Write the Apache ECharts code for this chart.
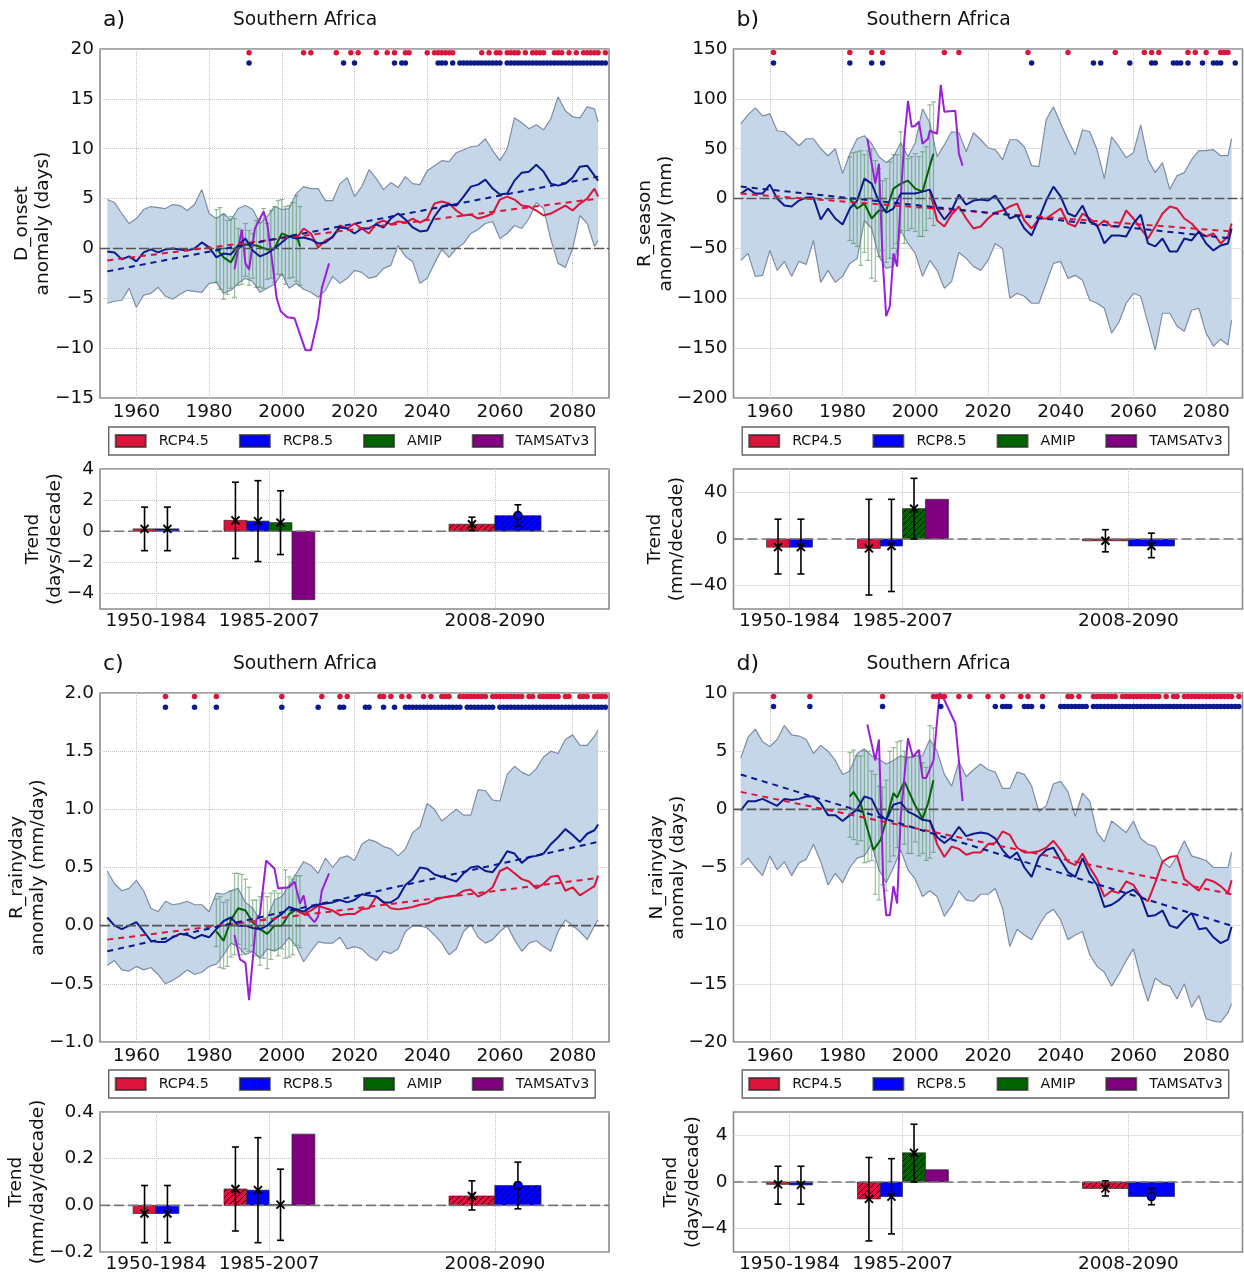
<!DOCTYPE html>
<html>
<head>
<meta charset="utf-8">
<title>Southern Africa</title>
<script src="https://cdn.jsdelivr.net/npm/echarts@6/dist/echarts.min.js"></script>
<style>
  html, body { margin: 0; padding: 0; background: #fff; }
  #main { width: 1244px; height: 1272px; }
</style>
</head>
<body>
<div id="main"></div>
<script>
// every 2 years, last point is 2087
var years = [1952,1954,1956,1958,1960,1962,1964,1966,1968,1970,
  1972,1974,1976,1978,1980,1982,1984,1986,1988,1990,
  1992,1994,1996,1998,2000,2002,2004,2006,2008,2010,
  2012,2014,2016,2018,2020,2022,2024,2026,2028,2030,
  2032,2034,2036,2038,2040,2042,2044,2046,2048,2050,
  2052,2054,2056,2058,2060,2062,2064,2066,2068,2070,
  2072,2074,2076,2078,2080,2082,2084,2086,2087];
var rcp45Years = years.slice(26);
var amipErrYears = [1982,1983,1984,1985,1986,1987,1988,1989,1990,1991,1992,1993,1994,1995,1996,1997,1998,1999,2000,2001,2002,2003,2004,2005];
var trendYears = [1952, 2087];

// a) D_onset
var upperA = [4.9,4.6,3.5,2.5,3.0,3.9,4.2,4.1,4.0,4.4,
  4.3,3.8,4.4,5.9,3.5,3.0,3.5,2.8,4.0,4.3,
  3.9,2.5,3.2,4.2,3.9,4.0,5.5,6.2,6.0,6.0,
  4.8,4.8,6.5,7.1,5.2,6.2,7.9,7.0,5.9,6.6,
  6.1,7.2,6.5,6.4,7.8,8.3,8.8,8.7,9.6,9.9,
  10.2,10.3,11.0,9.8,8.8,10.0,13.1,12.6,12.0,12.4,
  11.9,13.0,15.2,13.8,13.2,13.1,14.2,14.0,12.7];
var lowerA = [-5.5,-5.3,-5.2,-4.0,-5.9,-4.7,-4.5,-3.9,-4.8,-5.1,
  -4.6,-4.2,-4.3,-4.4,-3.5,-3.4,-4.5,-4.2,-3.5,-3.0,
  -3.3,-4.4,-4.0,-3.6,-2.5,-4.0,-3.5,-4.1,-4.4,-4.9,
  -4.2,-2.8,-3.5,-3.0,-2.2,-2.4,-3.0,-2.8,-2.0,-1.7,
  0.3,-0.8,-1.3,-3.5,-3.0,-1.5,-0.1,-0.9,0,0.5,
  1.5,1.9,2.5,2.7,1.0,1.5,2.3,2.0,3.0,4.6,
  4.0,0.9,-1.5,-1.9,0,3.3,2.5,0.2,0.8];
var rcp85A = [-0.3,-0.4,-1.1,-0.8,-1.3,-0.4,-0.1,-0.4,-0.1,0,
  -0.1,-0.2,0,0.6,0.1,-0.9,-0.5,-0.6,0.3,1.0,
  -0.2,-0.8,-0.5,0,0.6,1.2,1.0,1.1,0.9,0.5,
  0.6,1.2,2.1,2.0,1.5,2.0,2.0,2.4,2.1,3.0,
  3.5,2.9,2.1,1.7,1.8,3.2,4.2,4.4,4.3,5.2,
  6.2,6.4,6.9,6.0,5.4,5.5,6.8,7.6,7.7,8.4,
  7.7,6.5,6.3,6.5,7.1,8.2,8.3,7.3,6.8];
var rcp45A = [1.0,2.0,1.5,0.1,
  0.8,1.1,2.3,2.0,2.5,2.0,1.5,2.5,2.8,2.4,
  2.7,2.6,3.0,2.6,3.0,4.5,4.7,4.5,3.8,3.3,
  3.4,3.0,3.2,3.5,4.9,5.2,4.9,4.3,4.2,3.8,
  3.3,3.5,3.9,4.3,3.8,4.5,5.0,6.0,5.2];
var trend45A = [-1.2, 5.0];
var trend85A = [-2.3, 7.2];
var amipYearsA = [1982,1984,1986,1988,1990,1993,1996,1998,2000,2002,2004,2005];
var amipA = [0,-0.9,-1.4,0,0.4,0.3,-0.1,0,1.5,1.2,1.4,0.2];
var amipHiA = [3.9,4.1,3.4,2.8,3.2,3.0,2.0,1.8,2.5,1.8,1.5,2.8,3.0,4.0,2.5,3.8,4.2,4.8,4.9,4.2,4.3,4.6,5.3,4.2];
var amipLoA = [-3.4,-4.1,-5.1,-4.6,-4.0,-4.9,-3.7,-3.6,-2.8,-3.7,-3.0,-3.9,-3.9,-4.0,-3.1,-3.0,-3.4,-2.6,-2.7,-3.6,-3.0,-2.9,-3.3,-3.7];
var tamsatYearsA = [1987,1989,1990,1991,1992.6,1995,1996,1997.6,1998.6,1999.7,2001.5,2003.5,2006.5,2008,2010,2011,2013];
var tamsatA = [-2.1,1.9,-1.5,-2.1,2.0,3.7,2.5,-2.0,-5.0,-6.3,-6.9,-7.0,-10.2,-10.2,-7.0,-4.0,-1.5];
var sig45A = [1991,2006,2008,2015,2019,2021,2026,2029,2031,2034,2035,2040,[2042,2047],2055,2057,2059,2060,[2062,2065],2067,[2069,2072],[2075,2077],2079,2081,[2083,2087],2089];
var sig85A = [1991,2017,2020,2031,2033,2034,[2043,2045],2047,[2049,2060],[2062,2089]];

// b) R_season
var upperB = [75,84,91,83,85,68,67,60,53,60,
  60,50,43,50,25,45,60,63,55,42,
  36,42,56,42,56,90,76,42,54,67,
  66,47,66,59,51,49,39,59,59,52,
  33,32,79,92,75,59,44,69,67,49,
  20,62,52,41,46,74,39,26,36,9,
  23,26,39,48,48,49,43,43,60];
var lowerB = [-62,-55,-78,-77,-52,-72,-63,-78,-63,-66,
  -42,-84,-72,-84,-78,-65,-60,-22,-30,-58,
  -70,-68,-32,-45,-55,-78,-62,-72,-90,-83,
  -54,-60,-68,-72,-62,-45,-50,-100,-95,-98,
  -105,-105,-85,-65,-63,-80,-77,-82,-102,-105,
  -110,-135,-124,-105,-95,-98,-125,-152,-115,-115,
  -128,-133,-112,-110,-135,-148,-141,-147,-122];
var rcp85B = [5,10,5,5,14,0,-7,-8,-2,1,
  1,-21,-10,-20,-26,-10,-2,20,15,-3,
  -14,-10,5,5,5,7,9,-10,-21,-12,
  4,-6,-2,-1,-2,3,-8,-20,-17,-30,
  -37,-20,-2,12,2,-15,-18,-7,-23,-27,
  -45,-37,-37,-38,-25,-16,-45,-48,-40,-53,
  -53,-40,-42,-33,-45,-52,-47,-45,-30];
var rcp45B = [8,-22,-28,-16,
  -8,-20,-30,-28,-20,-14,-12,-8,-5,-22,
  -30,-20,-20,-15,-10,-25,-28,-15,-20,-28,
  -22,-28,-28,-12,-20,-30,-40,-28,-15,-8,
  -10,-20,-25,-33,-38,-35,-45,-38,-25];
var trend45B = [5, -33];
var trend85B = [12, -40];
var amipYearsB = [1982,1984,1986,1988,1990,1992,1994,1996,1998,2000,2002,2004,2005];
var amipB = [0,-10,-5,-20,-12,-12,10,15,18,10,7,33,45];
var amipHiB = [42,46,47,48,44,48,50,38,30,18,20,37,44,44,67,50,40,42,45,42,47,52,94,97];
var amipLoB = [-42,-45,-48,-67,-54,-62,-80,-83,-58,-52,-64,-60,-50,-45,-32,-45,-32,-30,-33,-38,-38,-32,-20,-27];
var tamsatYearsB = [1986.8,1989,1990,1991,1992,1993,1994,1995,1996,1997,1998,1999,2000,2001,2002,2003.5,2004,2006,2007,2008,2011,2012,2013];
var tamsatB = [60,15,35,-60,-118,-108,-55,-68,0,60,98,72,73,77,55,60,68,65,114,87,88,45,33];
var sig45B = [1961,1982,1988,1991,2008,2012,2031,2042,2055,2063,2065,2067,2075,2077,2080,2084,2085,2086];
var sig85B = [1961,1982,1988,1991,2032,2049,2051,2059,2065,2066,[2071,2073],2075,2079,[2082,2084],2088];

// c) R_rainyday
var upperC = [.47,.36,.30,.32,.39,.30,.15,.12,.21,.18,
  .19,.21,.18,.18,.12,.28,.27,.30,.32,.20,
  .15,.05,.07,.22,.25,.35,.45,.55,.52,.45,
  .58,.50,.58,.60,.56,.70,.74,.72,.68,.66,
  .60,.66,.80,.85,1.05,1.00,.90,.95,1.0,.95,
  .95,1.17,1.16,1.08,1.07,1.30,1.37,1.32,1.29,1.35,
  1.45,1.50,1.48,1.60,1.64,1.55,1.55,1.63,1.68];
var lowerC = [-.34,-.30,-.38,-.39,-.35,-.38,-.36,-.42,-.50,-.47,
  -.43,-.38,-.42,-.40,-.35,-.33,-.25,-.15,-.18,-.25,
  -.22,-.28,-.20,-.22,-.18,-.10,-.18,-.31,-.22,-.14,
  -.15,-.15,-.10,-.20,-.18,-.20,-.26,-.30,-.22,-.24,
  -.20,-.05,0,0,-.02,-.08,-.15,-.25,-.20,-.05,
  .01,-.10,-.15,-.12,-.05,0,-.12,-.22,-.15,-.13,
  -.18,-.22,-.05,.05,0,-.05,-.12,0,.05];
var rcp85C = [.07,0,-.03,0,.03,-.05,-.13,-.14,-.14,-.10,
  -.07,-.08,-.11,-.08,-.10,-.03,.04,.07,0,0,
  -.02,-.03,0,.06,.10,.16,.14,.12,.16,.18,
  .19,.20,.22,.20,.22,.27,.26,.25,.20,.20,
  .24,.35,.40,.50,.49,.44,.42,.40,.38,.45,
  .50,.51,.47,.46,.54,.64,.62,.54,.59,.60,
  .62,.70,.76,.83,.78,.72,.79,.82,.87];
var rcp45C = [.13,.10,.13,.17,
  .15,.13,.09,.10,.10,.14,.15,.25,.20,.15,
  .14,.15,.16,.18,.19,.22,.24,.25,.26,.30,
  .31,.25,.28,.33,.47,.50,.45,.40,.38,.32,
  .36,.42,.43,.30,.33,.26,.30,.34,.43];
var trend45C = [-.12, .41];
var trend85C = [-.22, .72];
var amipYearsC = [1982,1984,1986,1988,1990,1992,1994,1996,1998,2000,2002,2004,2005];
var amipC = [-.05,-.13,.05,.15,.13,.03,-.03,-.07,0,0,.10,.14,.14];
var amipHiC = [.23,.25,.20,.22,.30,.45,.45,.44,.40,.33,.22,.22,.25,.28,.25,.28,.30,.28,.33,.48,.42,.40,.43,.43];
var amipLoC = [-.18,-.36,-.37,-.35,-.27,-.25,-.16,-.25,-.20,-.22,-.17,-.26,-.34,-.28,-.37,-.29,-.21,-.26,-.20,-.28,-.27,-.25,-.17,-.19];
var tamsatYearsC = [1987,1988.5,1990,1991,1993,1994,1995.7,1998,1999,2002,2003.5,2005,2006,2007,2009,2010,2011,2013];
var tamsatC = [-.08,-.29,-.32,-.64,.05,.10,.56,.49,.32,.33,.38,.19,.26,.10,.03,.08,.30,.45];
var sig45C = [1968,1976,1982,2000,2011,2016,2018,2027,2028,2030,2033,2035,2039,2041,[2044,2046],[2049,2056],[2058,2066],2068,2069,[2071,2076],2078,2079,[2082,2084],[2086,2089]];
var sig85C = [1968,1976,1982,2000,2010,2016,2017,2023,2024,2028,2031,[2034,2049],[2051,2058],[2060,2089]];

// d) N_rainyday
var upperD = [4.4,6.2,6.9,5.8,5.4,6.0,7.2,6.4,6.3,6.0,
  4.8,5.5,5.0,4.2,3.0,3.3,4.8,5.2,4.6,4.3,
  3.9,4.2,4.6,4.4,4.6,4.6,6.0,5.0,3.0,2.0,
  4.1,2.8,3.4,3.9,3.4,3.2,1.8,1.8,3.2,3.0,
  2.0,-.2,.3,2.2,2.4,1.5,-.6,1.4,.7,-2.0,
  -2.8,-1.0,-1.5,-2.0,-1.0,-2.5,-3.0,-3.2,-4.5,-5.0,
  -4.0,-2.7,-4.0,-4.2,-4.4,-5.0,-5.0,-5.0,-3.7];
var lowerD = [-4.8,-4.2,-5.0,-5.7,-4.0,-5.2,-4.5,-5.7,-4.6,-4.3,
  -3.0,-4.5,-6.5,-5.5,-6.3,-5.0,-4.2,-4.0,-3.0,-5.2,
  -6.3,-5.0,-3.5,-5.2,-6.0,-7.5,-7.0,-7.5,-9.2,-8.3,
  -7.0,-7.8,-7.9,-7.3,-7.3,-6.8,-8.5,-11.8,-10.3,-10.8,
  -11.2,-10.0,-9.0,-8.6,-9.5,-11.2,-10.8,-10.5,-12.5,-13.5,
  -14.0,-15.2,-14.2,-13.0,-12.0,-14.5,-16.5,-14.5,-15,-15.2,
  -16.3,-15.0,-17,-16,-18,-18.2,-18.3,-17.5,-16.7];
var rcp85D = [-.1,.7,.7,.9,.6,.3,.9,.8,.9,1.1,
  1.1,.5,-.5,-.5,-1.0,-.5,0,1.1,.9,-.4,
  -.9,.4,.6,-.2,-.5,-.9,-1.0,-2.4,-2.9,-2.4,
  -1.5,-2.3,-2.1,-2.0,-2.1,-2.5,-3.5,-4.2,-3.7,-5.0,
  -5.8,-4.1,-3.5,-3.3,-4.4,-5.4,-5.8,-4.2,-5.6,-6.5,
  -8.4,-8.2,-7.8,-7.2,-6.9,-7.5,-9.2,-9.1,-8.7,-10.0,
  -10.2,-9.5,-8.9,-10.3,-10.2,-11.0,-11.5,-11.2,-10.1];
var rcp45D = [-.9,-3.0,-4.1,-3.2,
  -3.4,-3.9,-3.7,-3.7,-3.0,-2.9,-1.9,-2.2,-3.3,-3.7,
  -3.7,-3.6,-3.3,-2.7,-3.5,-4.5,-4.8,-3.8,-5.0,-6.0,
  -7.5,-7.0,-7.2,-6.2,-6.5,-7.5,-7.9,-6.3,-4.5,-4.1,
  -4.0,-6.0,-6.5,-7.0,-6.0,-6.2,-6.6,-7.2,-6.1];
var trend45D = [1.5, -7.3];
var trend85D = [3.0, -10];
var amipYearsD = [1982,1983,1985,1986.5,1988.5,1990.5,1992.3,1994,1995,1997,1999.7,2002,2003.5,2005];
var amipD = [1.1,1.5,.5,-1.3,-3.5,-2.6,-.6,1.4,1,2.4,.5,-.8,.5,2.5];
var amipHiD = [4.9,5.1,4.6,4.6,5.0,5.0,3.3,3.0,2.0,1.9,2.5,5.0,5.3,5.8,5.9,5.0,4.5,4.5,4.6,5.0,4.0,3.6,7.2,7.0];
var amipLoD = [-2.4,-2.6,-3.0,-2.7,-4.6,-4.5,-4.4,-7.3,-7.8,-6.5,-7.0,-4.5,-4.0,-3.3,-1.4,-3.0,-3.8,-3.8,-2.8,-4.0,-3.8,-4.4,-4.2,-3.7];
var tamsatYearsD = [1986.8,1989,1990,1991.2,1992,1993,1994,1995,1996,1998,1999.3,2001,2002,2003,2005,2006.7,2008,2011,2012,2013];
var tamsatD = [7.3,4.2,6,-6.3,-9.1,-9.1,-6.6,-8.1,-.6,6.1,4.5,5.1,2.7,2.7,4.2,10,9.4,7.4,4.2,.7];
var sig45D = [1961,1971,1991,[2005,2008],2012,2015,2020,2024,2029,2031,2035,2042,2043,2045,[2049,2055],[2057,2067],2069,2071,2072,[2074,2087],2089];
var sig85D = [1961,1971,1991,2007,2022,[2024,2026],[2030,2032],2035,[2040,2047],[2049,2089]];

// trend bars, one value per period
var periodLabels = ['1950-1984', '1985-2007', '2008-2090'];
var periodTicks = [1965.4, 1996.5, 2058.6];
var bins45 = [[1959.1,1965.4],[1984.1,1990.4],[2046,2058.6]];
var bins85 = [[1965.4,1971.7],[1990.4,1996.5],[2058.6,2071.3]];
var binAmip = [[1996.5,2002.8]];
var binTamsat = [[2002.8,2009.1]];

var bar45A = [.15,.7,.45], bar85A = [.15,.65,1.0], barAmipA = [.55], barTamsatA = [-4.4];
var bar45B = [-7,-8,-1.5], bar85B = [-7,-6,-6], barAmipB = [26], barTamsatB = [34];
var bar45C = [-.035,.07,.04], bar85C = [-.035,.065,.085], barAmipC = [.003], barTamsatC = [.305];
var bar45D = [-.2,-1.45,-.55], bar85D = [-.25,-1.25,-1.25], barAmipD = [2.5], barTamsatD = [1.05];

var whisk45A = [[-1.25,1.55],[-1.75,3.15],[.05,.9]], whisk85A = [[-1.25,1.55],[-1.95,3.25],[.35,1.7]], whiskAmipA = [[-1.5,2.6]];
var whisk45B = [[-30,17],[-48,34],[-11,8]], whisk85B = [[-30,17],[-45,34],[-16,5]], whiskAmipB = [[0,52]];
var whisk45C = [[-.16,.085],[-.11,.25],[-.02,.105]], whisk85C = [[-.16,.085],[-.16,.29],[-.015,.185]], whiskAmipC = [[-.15,.155]];
var whisk45D = [[-1.9,1.35],[-5.05,2.1],[-1.2,.1]], whisk85D = [[-1.9,1.35],[-4.45,2.0],[-1.95,-.55]], whiskAmipD = [[0,4.95]];

var RED = '#dc143c', BLUE = '#0000ff', NAVY = '#0b1a8c', GREEN = '#006400', PURPLE = '#800080', VIOLET = '#9a20d8';
var FRAME = '#8a8a8a', FONT = 'DejaVu Sans', FS = 18.5;

function pair(xs, ys) {
  return xs.map(function (x, i) { return [x, ys[i]]; });
}

// [2042,2047] means all the years in that run
function sigYears(list) {
  var out = [];
  list.forEach(function (d) {
    if (Array.isArray(d)) {
      for (var y = d[0]; y <= d[1]; y++) out.push(y);
    } else out.push(d);
  });
  return out;
}

function minus(v) { return String(v).replace('-', '\u2212'); }

function hatch(color) {
  var c = document.createElement('canvas');
  c.width = c.height = 6;
  var g = c.getContext('2d');
  g.fillStyle = color;
  g.fillRect(0, 0, 6, 6);
  g.strokeStyle = 'rgba(0,0,0,0.75)';
  g.lineWidth = 1;
  g.beginPath();
  g.moveTo(-1, 7); g.lineTo(7, -1);
  g.moveTo(-1, 1); g.lineTo(1, -1);
  g.moveTo(5, 7); g.lineTo(7, 5);
  g.stroke();
  return { image: c, repeat: 'repeat' };
}

function lineSeries(name, data, idx, color, width, z, dash) {
  return {
    type: 'line', name: name, data: data, xAxisIndex: idx, yAxisIndex: idx,
    symbol: 'none', z: z, silent: true,
    lineStyle: { color: color, width: width, type: dash || 'solid' }
  };
}

// one polygon for the spread between lower and upper
function bandSeries(idx, upper, lower) {
  return {
    type: 'custom', xAxisIndex: idx, yAxisIndex: idx, z: 1, silent: true,
    data: years.map(function (y, i) { return [y, lower[i], upper[i]]; }),
    renderItem: function (params, api) {
      if (params.dataIndex !== 0) return null;
      var pts = [];
      years.forEach(function (y, i) { pts.push(api.coord([y, upper[i]])); });
      for (var i = years.length - 1; i >= 0; i--) pts.push(api.coord([years[i], lower[i]]));
      return { type: 'polygon', shape: { points: pts }, style: { fill: '#c4d6e8', stroke: null } };
    }
  };
}

function errSeries(idx, hi, lo) {
  return {
    type: 'custom', xAxisIndex: idx, yAxisIndex: idx, z: 3, silent: true,
    data: amipErrYears.map(function (y, i) { return [y, lo[i], hi[i]]; }),
    renderItem: function (params, api) {
      var a = api.coord([api.value(0), api.value(1)]);
      var b = api.coord([api.value(0), api.value(2)]);
      var st = { stroke: 'rgba(70,140,80,0.55)', lineWidth: 1.2 };
      return { type: 'group', children: [
        { type: 'line', shape: { x1: a[0], y1: a[1], x2: b[0], y2: b[1] }, style: st },
        { type: 'line', shape: { x1: a[0] - 2.5, y1: a[1], x2: a[0] + 2.5, y2: a[1] }, style: st },
        { type: 'line', shape: { x1: b[0] - 2.5, y1: b[1], x2: b[0] + 2.5, y2: b[1] }, style: st }
      ] };
    }
  };
}

function dotSeries(idx, yrs, level, color) {
  return {
    type: 'scatter', xAxisIndex: idx, yAxisIndex: idx, z: 9, silent: true,
    symbolSize: 5.5, itemStyle: { color: color, opacity: 1 },
    data: sigYears(yrs).map(function (y) { return [y, level]; })
  };
}

function barSeries(name, idx, bins, values, color, hatched) {
  return {
    type: 'custom', name: name, xAxisIndex: idx, yAxisIndex: idx, z: 3, silent: true,
    itemStyle: { color: color, borderColor: 'rgba(40,40,40,0.7)', borderWidth: 0.6 },
    data: bins.map(function (b, i) { return [b[0], b[1], values[i]]; }),
    renderItem: function (params, api) {
      var p0 = api.coord([api.value(0), 0]);
      var p1 = api.coord([api.value(1), api.value(2)]);
      var fill = hatched[params.dataIndex] ? hatch(color) : color;
      return {
        type: 'rect',
        shape: { x: p0[0], y: Math.min(p0[1], p1[1]), width: p1[0] - p0[0], height: Math.abs(p1[1] - p0[1]) },
        style: { fill: fill, stroke: 'rgba(40,40,40,0.7)', lineWidth: 1 }
      };
    }
  };
}

function whiskerSeries(idx, bins, whisk) {
  return {
    type: 'custom', xAxisIndex: idx, yAxisIndex: idx, z: 5, silent: true,
    data: bins.map(function (b, i) { return [(b[0] + b[1]) / 2, whisk[i][0], whisk[i][1]]; }),
    renderItem: function (params, api) {
      var a = api.coord([api.value(0), api.value(1)]);
      var b = api.coord([api.value(0), api.value(2)]);
      var st = { stroke: '#000', lineWidth: 1.6 };
      return { type: 'group', children: [
        { type: 'line', shape: { x1: a[0], y1: a[1], x2: b[0], y2: b[1] }, style: st },
        { type: 'line', shape: { x1: a[0] - 3.5, y1: a[1], x2: a[0] + 3.5, y2: a[1] }, style: st },
        { type: 'line', shape: { x1: b[0] - 3.5, y1: b[1], x2: b[0] + 3.5, y2: b[1] }, style: st }
      ] };
    }
  };
}

function markSeries(idx, bins, values, symbol) {
  return {
    type: 'scatter', xAxisIndex: idx, yAxisIndex: idx, z: 6, silent: true,
    symbol: symbol, symbolSize: 8,
    itemStyle: symbol === 'circle'
      ? { color: BLUE, borderColor: '#000', borderWidth: 1.6, opacity: 1 }
      : { color: 'rgba(0,0,0,0)', borderColor: '#000', borderWidth: 2, opacity: 1 },
    data: bins.map(function (b, i) { return [(b[0] + b[1]) / 2, values[i]]; })
  };
}

var CROSS = 'path://M0,0L10,10M10,0L0,10';

var panels = [
  { letter: 'a)', left: 100, top: 49, bottomTop: 469,
    ymin: -15, ymax: 20, step: 5, decimals: 0, name: 'D_onset\nanomaly (days)', gap: 46,
    upper: upperA, lower: lowerA, r85: rcp85A, r45: rcp45A, t45: trend45A, t85: trend85A,
    amipX: amipYearsA, amip: amipA, hi: amipHiA, lo: amipLoA, tamX: tamsatYearsA, tam: tamsatA,
    s45: sig45A, s85: sig85A, dotHi: 19.63, dotLo: 18.6,
    barMin: -5, barMax: 4, barTicks: [-4,-2,0,2,4], barDec: 0, barName: 'Trend\n(days/decade)', barGap: 34,
    b45: bar45A, b85: bar85A, bAmip: barAmipA, bTam: barTamsatA, w45: whisk45A, w85: whisk85A, wAmip: whiskAmipA,
    h45: [0,0,1], h85: [0,0,1], hAmip: [0], lastCircle: true },
  { letter: 'b)', left: 733.5, top: 49, bottomTop: 469,
    ymin: -200, ymax: 150, step: 50, decimals: 0, name: 'R_season\nanomaly (mm)', gap: 57,
    upper: upperB, lower: lowerB, r85: rcp85B, r45: rcp45B, t45: trend45B, t85: trend85B,
    amipX: amipYearsB, amip: amipB, hi: amipHiB, lo: amipLoB, tamX: tamsatYearsB, tam: tamsatB,
    s45: sig45B, s85: sig85B, dotHi: 146.5, dotLo: 136,
    barMin: -60, barMax: 60, barTicks: [-40,0,40], barDec: 0, barName: 'Trend\n(mm/decade)', barGap: 45,
    b45: bar45B, b85: bar85B, bAmip: barAmipB, bTam: barTamsatB, w45: whisk45B, w85: whisk85B, wAmip: whiskAmipB,
    h45: [0,0,0], h85: [0,0,0], hAmip: [1], lastCircle: false },
  { letter: 'c)', left: 100, top: 693, bottomTop: 1112,
    ymin: -1, ymax: 2, step: 0.5, decimals: 1, name: 'R_rainyday\nanomaly (mm/day)', gap: 51,
    upper: upperC, lower: lowerC, r85: rcp85C, r45: rcp45C, t45: trend45C, t85: trend85C,
    amipX: amipYearsC, amip: amipC, hi: amipHiC, lo: amipLoC, tamX: tamsatYearsC, tam: tamsatC,
    s45: sig45C, s85: sig85C, dotHi: 1.97, dotLo: 1.877,
    barMin: -0.2, barMax: 0.4, barTicks: [-0.2,0,0.2,0.4], barDec: 1, barName: 'Trend\n(mm/day/decade)', barGap: 51,
    b45: bar45C, b85: bar85C, bAmip: barAmipC, bTam: barTamsatC, w45: whisk45C, w85: whisk85C, wAmip: whiskAmipC,
    h45: [0,1,1], h85: [0,0,1], hAmip: [0], lastCircle: true },
  { letter: 'd)', left: 733.5, top: 693, bottomTop: 1112,
    ymin: -20, ymax: 10, step: 5, decimals: 0, name: 'N_rainyday\nanomaly (days)', gap: 45,
    upper: upperD, lower: lowerD, r85: rcp85D, r45: rcp45D, t45: trend45D, t85: trend85D,
    amipX: amipYearsD, amip: amipD, hi: amipHiD, lo: amipLoD, tamX: tamsatYearsD, tam: tamsatD,
    s45: sig45D, s85: sig85D, dotHi: 9.7, dotLo: 8.83,
    barMin: -6, barMax: 6, barTicks: [-4,0,4], barDec: 0, barName: 'Trend\n(days/decade)', barGap: 29,
    b45: bar45D, b85: bar85D, bAmip: barAmipD, bTam: barTamsatD, w45: whisk45D, w85: whisk85D, wAmip: whiskAmipD,
    h45: [0,1,1], h85: [0,0,0], hAmip: [1], lastCircle: true }
];

var grids = [], xAxes = [], yAxes = [], series = [], titles = [], legends = [];
var splitStyle = { show: true, lineStyle: { color: '#c2c2c2', type: 'dotted', width: 1 } };
var INK = '#111';

panels.forEach(function (p, n) {
  var idx = n * 2, bidx = idx + 1;

  titles.push({ text: p.letter, left: p.left + 3, top: p.top - 40, padding: 0, textStyle: { color: INK, fontFamily: FONT, fontSize: 22, fontWeight: 'normal' } });
  titles.push({ text: 'Southern Africa', left: p.left + 133, top: p.top - 38, padding: 0, textStyle: { color: INK, fontFamily: FONT, fontSize: 18.7, fontWeight: 'normal' } });

  // time series panel
  grids.push({ left: p.left, top: p.top, width: 509, height: 349, outerBoundsMode: 'none', show: true, borderColor: FRAME, borderWidth: 1.6, backgroundColor: 'transparent' });
  xAxes.push({
    type: 'value', gridIndex: idx, min: 1950, max: 2090,
    axisLine: { show: false }, axisTick: { show: false, customValues: [1960,1980,2000,2020,2040,2060,2080] },
    axisLabel: { customValues: [1960,1980,2000,2020,2040,2060,2080], margin: 5, color: INK, fontFamily: FONT, fontSize: FS, formatter: function (v) { return String(v); } },
    splitLine: splitStyle
  });
  yAxes.push({
    type: 'value', gridIndex: idx, min: p.ymin, max: p.ymax, interval: p.step,
    name: p.name, nameLocation: 'middle', nameGap: p.gap, nameRotate: 90, nameMoveOverlap: false,
    nameTextStyle: { color: INK, fontFamily: FONT, fontSize: FS, lineHeight: 21 },
    axisLine: { show: false }, axisTick: { show: false },
    axisLabel: { margin: 6, color: INK, fontFamily: FONT, fontSize: FS, showMinLabel: true, showMaxLabel: true,
      formatter: (function (d) { return function (v) { return minus(v.toFixed(d)); }; })(p.decimals) },
    splitLine: splitStyle
  });

  series.push(bandSeries(idx, p.upper, p.lower));
  series.push(lineSeries('', pair(years, p.upper), idx, '#7f8ca6', 1.2, 2));
  series.push(lineSeries('', pair(years, p.lower), idx, '#7f8ca6', 1.2, 2));
  series.push(errSeries(idx, p.hi, p.lo));
  series.push(lineSeries('', [[1950, 0], [2090, 0]], idx, '#555', 1.6, 8, [10, 3]));
  series.push(lineSeries('', pair(p.amipX, p.amip), idx, GREEN, 2, 4));
  series.push(lineSeries('', pair(p.tamX, p.tam), idx, VIOLET, 2, 5));
  series.push(lineSeries('', pair(rcp45Years, p.r45), idx, RED, 2, 6));
  series.push(lineSeries('', pair(years, p.r85), idx, NAVY, 2, 7));
  series.push(lineSeries('', pair(trendYears, p.t45), idx, RED, 2, 8, [6, 5]));
  series.push(lineSeries('', pair(trendYears, p.t85), idx, NAVY, 2, 8, [6, 5]));
  series.push(dotSeries(idx, p.s45, p.dotHi, RED));
  series.push(dotSeries(idx, p.s85, p.dotLo, NAVY));

  // trend bar panel
  grids.push({ left: p.left, top: p.bottomTop, width: 509, height: 140, outerBoundsMode: 'none', show: true, borderColor: FRAME, borderWidth: 1.6, backgroundColor: 'transparent' });
  xAxes.push({
    type: 'value', gridIndex: bidx, min: 1950, max: 2090,
    axisLine: { show: false }, axisTick: { show: false, customValues: periodTicks },
    axisLabel: { customValues: periodTicks, margin: 3, color: INK, fontFamily: FONT, fontSize: FS,
      formatter: function (v) { return periodLabels[periodTicks.indexOf(v)]; } },
    splitLine: splitStyle
  });
  yAxes.push({
    type: 'value', gridIndex: bidx, min: p.barMin, max: p.barMax,
    name: p.barName, nameLocation: 'middle', nameGap: p.barGap, nameRotate: 90, nameMoveOverlap: false,
    nameTextStyle: { color: INK, fontFamily: FONT, fontSize: FS, lineHeight: 22 },
    axisLine: { show: false }, axisTick: { show: false, customValues: p.barTicks },
    axisLabel: { customValues: p.barTicks, margin: 6, color: INK, fontFamily: FONT, fontSize: FS,
      formatter: (function (d) { return function (v) { return minus(v.toFixed(d)); }; })(p.barDec) },
    splitLine: splitStyle
  });

  series.push(barSeries('RCP4.5', bidx, bins45, p.b45, RED, p.h45));
  series.push(barSeries('RCP8.5', bidx, bins85, p.b85, BLUE, p.h85));
  series.push(barSeries('AMIP', bidx, binAmip, p.bAmip, GREEN, p.hAmip));
  series.push(barSeries('TAMSATv3', bidx, binTamsat, p.bTam, PURPLE, [0]));
  series.push(lineSeries('', [[1950, 0], [2090, 0]], bidx, '#777', 1.6, 4, [10, 4]));
  series.push(whiskerSeries(bidx, bins45, p.w45));
  series.push(whiskerSeries(bidx, bins85, p.w85));
  series.push(whiskerSeries(bidx, binAmip, p.wAmip));
  series.push(markSeries(bidx, bins45, p.b45, CROSS));
  series.push(markSeries(bidx, p.lastCircle ? bins85.slice(0, 2) : bins85, p.b85, CROSS));
  series.push(markSeries(bidx, binAmip, p.bAmip, CROSS));
  if (p.lastCircle) series.push(markSeries(bidx, bins85.slice(2), p.b85.slice(2), 'circle'));

  legends.push({
    left: p.left + 8.7, top: p.bottomTop - 42,
    data: ['RCP4.5', 'RCP8.5', 'AMIP', 'TAMSATv3'],
    icon: 'rect', itemWidth: 30, itemHeight: 12, itemGap: 30, padding: [7, 6, 7, 6], selectedMode: false,
    borderColor: '#666', borderWidth: 1.4, backgroundColor: '#fff',
    textStyle: { color: INK, fontFamily: FONT, fontSize: 14.2, padding: [0, 0, 0, 8] }
  });
});

var myChart = echarts.init(document.getElementById('main'), null, { renderer: 'canvas' });
myChart.setOption({
  animation: false,
  backgroundColor: '#fff',
  title: titles,
  legend: legends,
  grid: grids,
  xAxis: xAxes,
  yAxis: yAxes,
  series: series
});
</script>
</body>
</html>
